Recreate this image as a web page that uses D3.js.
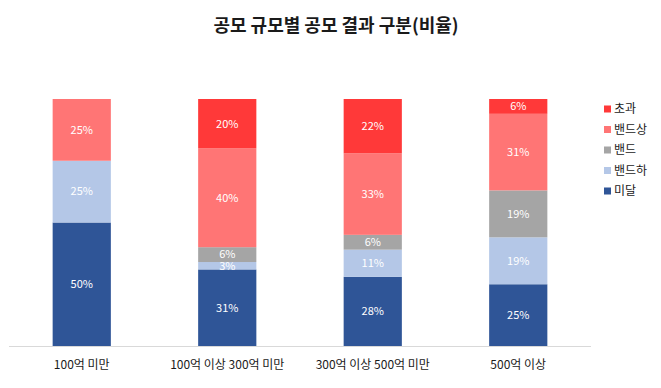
<!DOCTYPE html>
<html><head><meta charset="utf-8">
<script src="https://cdn.jsdelivr.net/npm/d3@7"></script>
<style>body{margin:0;background:#fff}svg{display:block}</style>
</head><body>
<svg id="c" width="661" height="388"></svg>
<script>
const categories = ["100억 미만", "100억 이상 300억 미만", "300억 이상 500억 미만", "500억 이상"];
const seriesNames = ["미달", "밴드하", "밴드", "밴드상", "초과"];
const v미달 = [50, 31, 28, 25];
const v밴드하 = [25, 3, 11, 19];
const v밴드 = [0, 6, 6, 19];
const v밴드상 = [25, 40, 33, 31];
const v초과 = [0, 20, 22, 6];
const colors = ["#2F5597", "#B4C7E7", "#A5A5A5", "#FF7575", "#FF3939"];
const title = "공모 규모별 공모 결과 구분(비율)";

const values = [v미달, v밴드하, v밴드, v밴드상, v초과];
const rows = categories.map((c, i) => {
  const r = {cat: c};
  seriesNames.forEach((s, j) => r[s] = values[j][i]);
  return r;
});
const stack = d3.stack().keys(seriesNames)(rows);

const svg = d3.select("#c");
const font = "'Noto Sans CJK KR', 'Noto Sans', sans-serif";
const x = d3.scaleBand().domain(categories).range([9, 591]).paddingInner(0.6).paddingOuter(0.3);
const y = d3.scaleLinear().domain([0, 100]).range([346, 99]);

svg.append("text").attr("x", 336).attr("y", 32).attr("text-anchor", "middle")
  .attr("font-family", font).attr("font-weight", "bold").attr("font-size", 18).attr("fill", "#1a1a1a").text(title);

const g = svg.append("g");
stack.forEach((layer, j) => {
  g.selectAll(null).data(layer).enter().append("rect")
    .attr("x", d => x(d.data.cat)).attr("width", x.bandwidth())
    .attr("y", d => y(d[1])).attr("height", d => y(d[0]) - y(d[1]))
    .attr("fill", colors[j]);
  g.selectAll(null).data(layer.filter(d => d[1] - d[0] > 0)).enter().append("text")
    .attr("x", d => x(d.data.cat) + x.bandwidth() / 2)
    .attr("y", d => (y(d[0]) + y(d[1])) / 2).attr("dy", "0.35em")
    .attr("text-anchor", "middle").attr("font-family", font).attr("font-size", 11).attr("fill", "#fff")
    .text(d => (d[1] - d[0]) + "%");
});

const axis = svg.append("g").attr("transform", "translate(0,346)")
  .call(d3.axisBottom(x).tickSize(0).tickPadding(14));
axis.select(".domain").attr("stroke", "#D9D9D9").attr("d", "M9,0.5H591");
axis.selectAll("text").attr("font-family", font).attr("font-size", 12).attr("fill", "#1a1a1a");

const legendOrder = seriesNames.map((s, j) => ({s, j})).reverse();
const lg = svg.append("g");
legendOrder.forEach((d, i) => {
  const yy = 109 + i * 20.5;
  lg.append("rect").attr("x", 604).attr("y", yy - 3.5).attr("width", 7).attr("height", 7).attr("fill", colors[d.j]);
  lg.append("text").attr("x", 614).attr("y", yy).attr("dy", "0.35em").attr("font-family", font)
    .attr("font-size", 12).attr("fill", "#1a1a1a").text(d.s);
});
</script>
</body></html>
